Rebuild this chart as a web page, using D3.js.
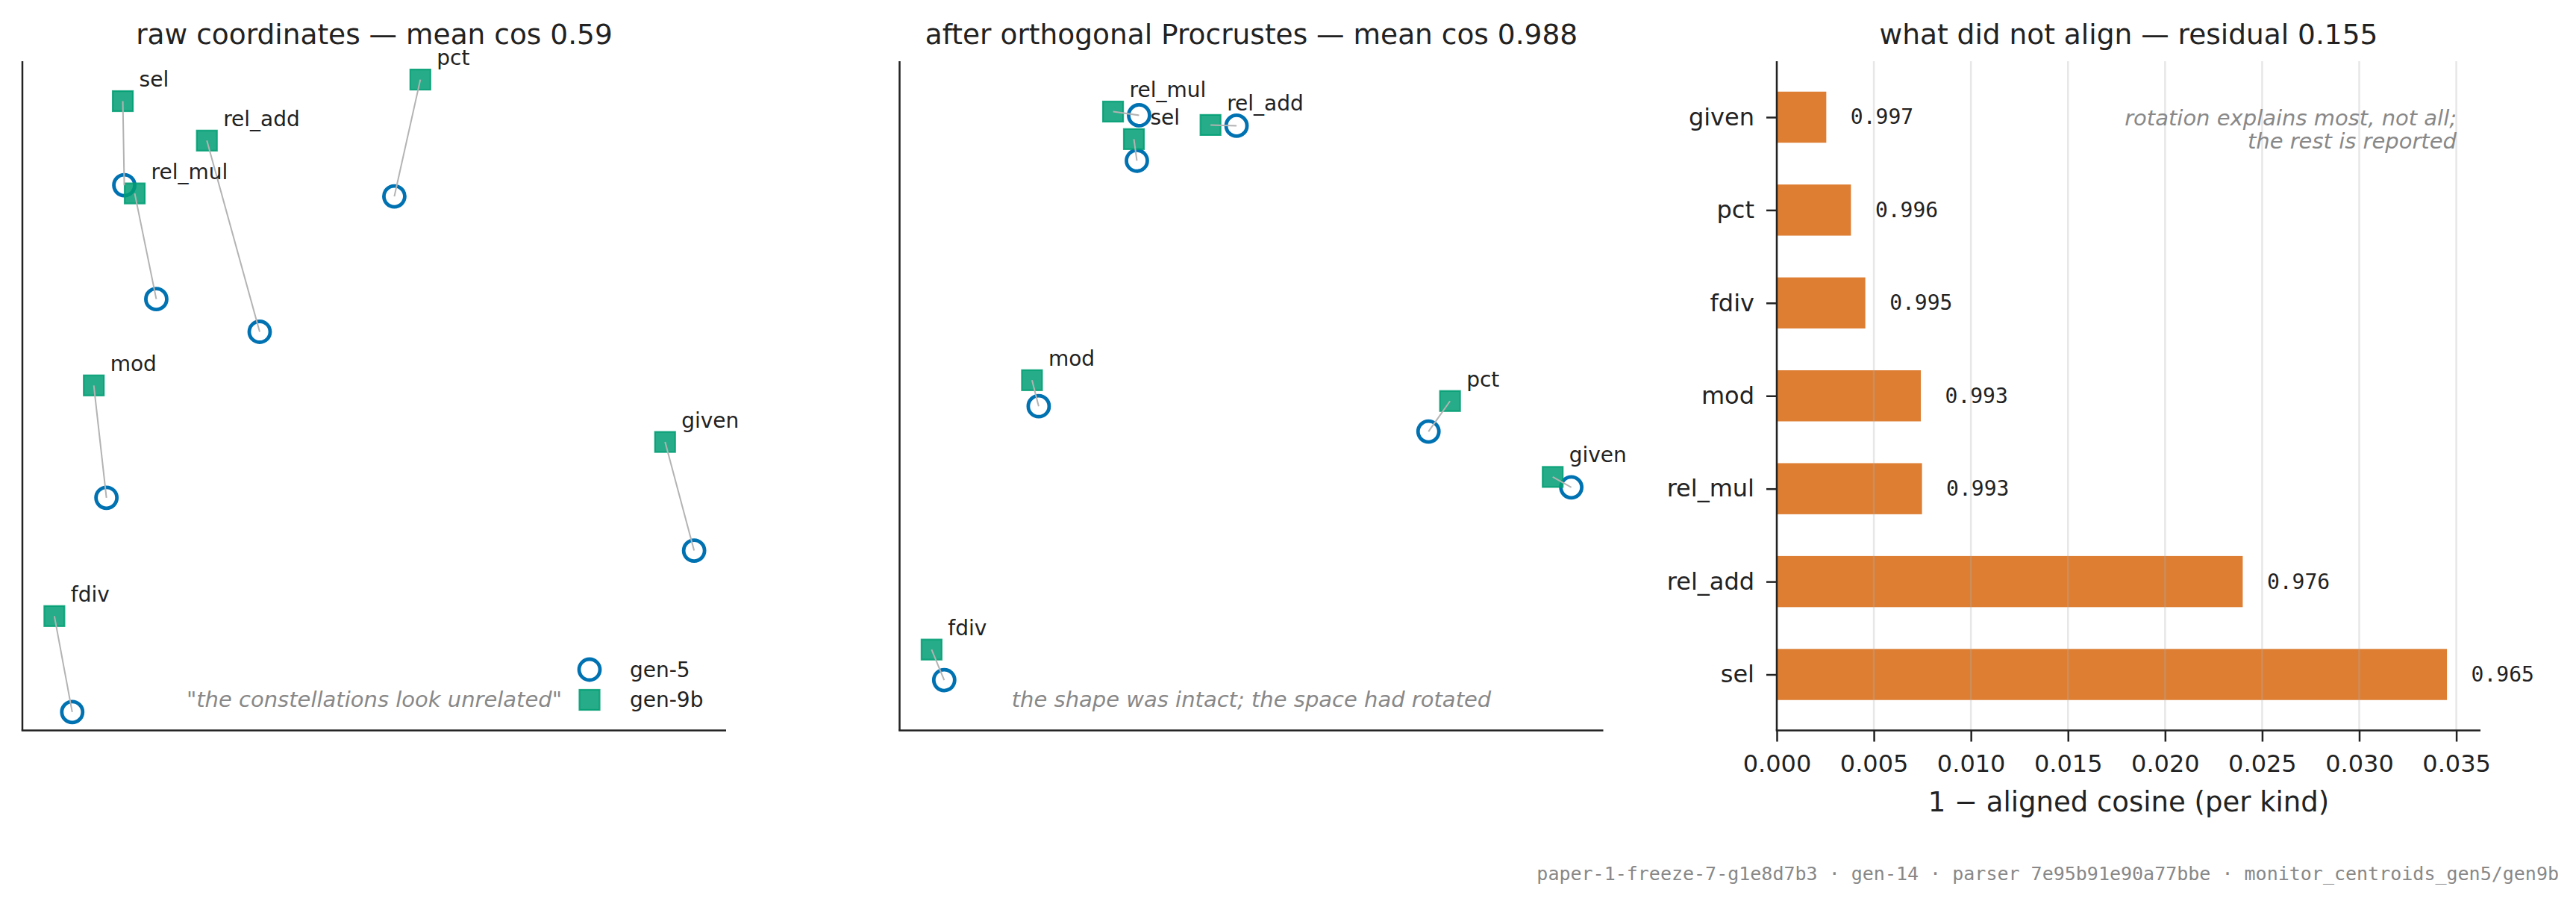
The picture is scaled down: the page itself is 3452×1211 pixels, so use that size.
<!DOCTYPE html>
<html>
<head>
	<meta charset="UTF-8">
	<script src="https://d3js.org/d3.v7.min.js"></script>
	<title>procrustes</title>
	<style>
		body { margin: 0; background: #fff; }
		svg { display: block; font-family: "DejaVu Sans", sans-serif; }
	</style>
</head>
<body>
	<svg></svg>
	<script type="text/javascript">
		const width = 3452;
		const height = 1211;

		// kinds, same order in every scatter array
		const kinds = ["sel", "rel_add", "pct", "rel_mul", "mod", "given", "fdiv"];

		// raw coordinates (2d projection)
		const rawGen5X  = [-1.68, -0.77, 0.135, -1.465, -1.80, 2.15, -2.03];
		const rawGen5Y  = [1.415, 0.43, 1.34, 0.65, -0.685, -1.04, -2.125];
		const rawGen9bX = [-1.69, -1.125, 0.31, -1.61, -1.885, 1.955, -2.15];
		const rawGen9bY = [1.98, 1.715, 2.125, 1.36, 0.07, -0.31, -1.48];

		// after orthogonal procrustes
		const alnGen5X  = [-0.775, -0.105, 1.185, -0.76, -1.435, 2.145, -2.07];
		const alnGen5Y  = [1.58, 1.815, -0.24, 1.885, -0.07, -0.615, -1.91];
		const alnGen9bX = [-0.795, -0.28, 1.33, -0.935, -1.48, 2.02, -2.155];
		const alnGen9bY = [1.725, 1.82, -0.035, 1.91, 0.105, -0.545, -1.705];

		// residual per kind (1 - aligned cosine), bottom to top
		const barKinds = ["sel", "rel_add", "rel_mul", "mod", "fdiv", "pct", "given"];
		const residual = [0.03452, 0.0240, 0.00748, 0.00742, 0.00456, 0.00382, 0.00255];
		const xTicks = [0, 0.005, 0.010, 0.015, 0.020, 0.025, 0.030, 0.035];

		const blue = "#0072B2", green = "#009E73", orange = "#D55E00", ink = "#222";

		const svg = d3.select("svg")
			.attr("width", width)
			.attr("height", height)
			.attr("viewBox", [0, 0, width, height]);

		svg.append("rect").attr("width", width).attr("height", height).attr("fill", "#fff");

		function spines(g, p) {
			g.append("line").attr("x1", p.left).attr("x2", p.left).attr("y1", p.top).attr("y2", p.bottom)
				.attr("stroke", ink).attr("stroke-width", 2.5);
			g.append("line").attr("x1", p.left - 1.25).attr("x2", p.right).attr("y1", p.bottom).attr("y2", p.bottom)
				.attr("stroke", ink).attr("stroke-width", 2.5);
		}

		function title(g, p, text) {
			g.append("text")
				.attr("x", (p.left + p.right) / 2).attr("y", 46)
				.attr("text-anchor", "middle").attr("dominant-baseline", "central")
				.attr("font-size", 37.5).attr("fill", ink)
				.text(text);
		}

		function square(sel) {
			return sel.attr("width", 27).attr("height", 27)
				.attr("fill", green).attr("fill-opacity", 0.85)
				.attr("stroke", green).attr("stroke-opacity", 0.85).attr("stroke-width", 2.2);
		}

		function ring(sel) {
			return sel.attr("r", 14).attr("fill", "none").attr("stroke", blue).attr("stroke-width", 4.8);
		}

		function scatter(p, g5x, g5y, g9x, g9y, ttl, caption, legend) {
			const g = svg.append("g");
			const allX = g5x.concat(g9x), allY = g5y.concat(g9y);
			const [x0, x1] = d3.extent(allX);
			const pad = (x1 - x0) * 0.05;
			const x = d3.scaleLinear().domain([x0 - pad, x1 + pad]).range([p.left, p.right]);
			// equal aspect: same pixels per unit on y, centred on the data
			const k = (p.right - p.left) / (x1 - x0 + 2 * pad);
			const [y0, y1] = d3.extent(allY);
			const cy = (y0 + y1) / 2, half = (p.bottom - p.top) / 2 / k;
			const y = d3.scaleLinear().domain([cy - half, cy + half]).range([p.bottom, p.top]);

			spines(g, p);
			title(g, p, ttl);

			const pts = kinds.map((kind, i) => ({kind, ax: g5x[i], ay: g5y[i], bx: g9x[i], by: g9y[i]}));

			g.append("g").selectAll("circle").data(pts).join("circle")
				.attr("cx", d => x(d.ax)).attr("cy", d => y(d.ay))
				.call(ring);

			g.append("g").selectAll("rect").data(pts).join("rect")
				.attr("x", d => x(d.bx) - 13.5).attr("y", d => y(d.by) - 13.5)
				.call(square);

			g.append("g").selectAll("line").data(pts).join("line")
				.attr("x1", d => x(d.bx)).attr("y1", d => y(d.by))
				.attr("x2", d => x(d.ax)).attr("y2", d => y(d.ay))
				.attr("stroke", "#b3b3b3").attr("stroke-width", 2);

			g.append("g").selectAll("text").data(pts).join("text")
				.attr("x", d => x(d.bx) + 22).attr("y", d => y(d.by) - 19.5)
				.attr("font-size", 28).attr("fill", ink)
				.text(d => d.kind);

			g.append("text")
				.attr("x", (p.left + p.right) / 2).attr("y", p.bottom - 32)
				.attr("text-anchor", "middle")
				.attr("font-size", 29).attr("font-style", "italic").attr("fill", "#888")
				.text(caption);

			if (legend) {
				const lx = p.right - 183;
				g.append("circle").attr("cx", lx).attr("cy", p.bottom - 81.5).call(ring);
				g.append("rect").attr("x", lx - 13.5).attr("y", p.bottom - 41 - 13.5).call(square);
				[["gen-5", 81.5], ["gen-9b", 41]].forEach(([t, dy]) => {
					g.append("text").attr("x", lx + 54).attr("y", p.bottom - dy)
						.attr("dominant-baseline", "central").attr("font-size", 28).attr("fill", ink)
						.text(t);
				});
			}
		}

		scatter({left: 30, right: 973, top: 82, bottom: 978.5},
			rawGen5X, rawGen5Y, rawGen9bX, rawGen9bY,
			"raw coordinates — mean cos 0.59",
			"\"the constellations look unrelated\"", true);

		scatter({left: 1205.5, right: 2148.5, top: 82, bottom: 978.5},
			alnGen5X, alnGen5Y, alnGen9bX, alnGen9bY,
			"after orthogonal Procrustes — mean cos 0.988",
			"the shape was intact; the space had rotated", false);

		// residual bars
		const p3 = {left: 2381, right: 3324, top: 82, bottom: 978.5};
		const g3 = svg.append("g");
		const bars = barKinds.map((kind, i) => ({kind, i, v: residual[i]}));

		const x = d3.scaleLinear()
			.domain([0, d3.max(residual) * 1.05])
			.range([p3.left, p3.right]);
		const bh = 0.55;
		const span = barKinds.length - 1 + bh;
		const y = d3.scaleLinear()
			.domain([-bh / 2 - 0.05 * span, barKinds.length - 1 + bh / 2 + 0.05 * span])
			.range([p3.bottom, p3.top]);

		g3.append("g").selectAll("rect").data(bars).join("rect")
			.attr("x", x(0)).attr("y", d => y(d.i + bh / 2))
			.attr("width", d => x(d.v) - x(0)).attr("height", y(0) - y(bh))
			.attr("fill", orange).attr("fill-opacity", 0.8);

		g3.append("g").selectAll("line").data(xTicks).join("line")
			.attr("x1", d => x(d)).attr("x2", d => x(d)).attr("y1", p3.top).attr("y2", p3.bottom)
			.attr("stroke", "#b0b0b0").attr("stroke-opacity", 0.3).attr("stroke-width", 2.5);

		g3.append("g").selectAll("text").data(bars).join("text")
			.attr("x", d => x(d.v) + 32.5).attr("y", d => y(d.i))
			.attr("dominant-baseline", "central")
			.attr("font-family", "'DejaVu Sans Mono', monospace").attr("font-size", 28).attr("fill", ink)
			.text(d => (1 - d.v).toFixed(3));

		spines(g3, p3);
		title(g3, p3, "what did not align — residual 0.155");

		const xAxis = g => g
			.attr("transform", `translate(0,${p3.bottom})`)
			.call(d3.axisBottom(x).tickValues(xTicks).tickFormat(d3.format(".3f")).tickSize(15).tickPadding(18))
			.call(g => g.select(".domain").remove())
			.call(g => g.selectAll(".tick line").attr("stroke", ink).attr("stroke-width", 2.5))
			.call(g => g.selectAll(".tick text").attr("font-size", 32).attr("fill", ink)
				.attr("font-family", "'DejaVu Sans', sans-serif"));

		const yAxis = g => g
			.attr("transform", `translate(${p3.left},0)`)
			.call(d3.axisLeft(y).tickValues(bars.map(d => d.i)).tickFormat(i => barKinds[i]).tickSize(14).tickPadding(16))
			.call(g => g.select(".domain").remove())
			.call(g => g.selectAll(".tick line").attr("stroke", ink).attr("stroke-width", 2.5))
			.call(g => g.selectAll(".tick text").attr("font-size", 32).attr("fill", ink)
				.attr("font-family", "'DejaVu Sans', sans-serif"));

		g3.append("g").call(xAxis);
		g3.append("g").call(yAxis);

		g3.append("text")
			.attr("x", (p3.left + p3.right) / 2).attr("y", 1086.5)
			.attr("text-anchor", "middle")
			.attr("font-size", 37).attr("fill", ink)
			.text("1 − aligned cosine (per kind)");

		["rotation explains most, not all;", "the rest is reported"].forEach((t, i) => {
			g3.append("text")
				.attr("x", 3292).attr("y", 168 + i * 31)
				.attr("text-anchor", "end")
				.attr("font-size", 29).attr("font-style", "italic").attr("fill", "#888")
				.text(t);
		});

		svg.append("text")
			.attr("x", 3429).attr("y", 1170)
			.attr("text-anchor", "end").attr("dominant-baseline", "central")
			.attr("font-family", "'DejaVu Sans Mono', monospace").attr("font-size", 25).attr("fill", "#888")
			.text("paper-1-freeze-7-g1e8d7b3 · gen-14 · parser 7e95b91e90a77bbe · monitor_centroids_gen5/gen9b");
	</script>
</body>
</html>
